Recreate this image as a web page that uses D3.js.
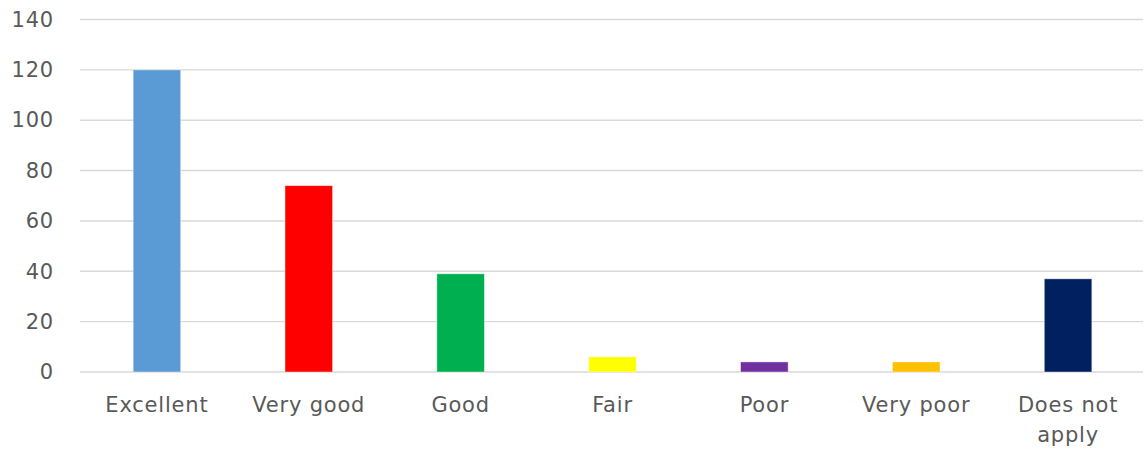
<!DOCTYPE html>
<html>
<head>
<meta charset="utf-8">
<script src="https://cdn.jsdelivr.net/npm/d3@7"></script>
<style>
  html, body { margin: 0; padding: 0; background: #ffffff; }
  svg { display: block; }
</style>
</head>
<body>
<svg id="chart" width="1146" height="451"></svg>
<script>
// Survey ratings: number of responses per category
const categories = ["Excellent", "Very good", "Good", "Fair", "Poor", "Very poor", "Does not apply"];
const counts = [120, 74, 39, 6, 4, 4, 37];
const barColors = ["#5b9bd5", "#ff0000", "#00b050", "#ffff00", "#7030a0", "#ffc000", "#002060"];
const yTicks = [0, 20, 40, 60, 80, 100, 120, 140];

const svg = d3.select("#chart");
const margin = { left: 81, right: 2, top: 19.5, bottom: 79 };
const width = 1146, height = 451;

const x = d3.scaleBand()
  .domain(categories)
  .range([margin.left, width - margin.right])
  .paddingInner(0.687)
  .paddingOuter(0.3435);

const y = d3.scaleLinear()
  .domain([0, 140])
  .range([height - margin.bottom, margin.top]);

const fontFamily = "'DejaVu Sans', 'Noto Sans', sans-serif";
const fontSize = 21;
const letterSpacing = 0.8;
const textColor = "#595959";

// Horizontal gridlines
svg.append("g")
  .selectAll("line")
  .data(yTicks)
  .join("line")
  .attr("x1", margin.left - 1)
  .attr("x2", width - 3)
  .attr("y1", d => y(d))
  .attr("y2", d => y(d))
  .attr("stroke", "#d9d9d9")
  .attr("stroke-width", 1.4);

// Y axis labels
const yAxis = d3.axisLeft(y).tickValues(yTicks).tickSize(0).tickPadding(0);
const gy = svg.append("g")
  .attr("transform", "translate(54,0)")
  .call(yAxis);
gy.select(".domain").remove();
gy.selectAll("text")
  .attr("font-family", fontFamily)
  .attr("font-size", fontSize)
  .attr("letter-spacing", letterSpacing)
  .attr("fill", textColor);

// Bars
svg.append("g")
  .selectAll("rect")
  .data(categories)
  .join("rect")
  .attr("x", d => x(d))
  .attr("width", x.bandwidth())
  .attr("y", (d, i) => y(counts[i]))
  .attr("height", (d, i) => y(0) - y(counts[i]))
  .attr("fill", (d, i) => barColors[i])
  .attr("stroke", "rgba(255,255,255,0.5)")
  .attr("stroke-width", 0.8);

// Category labels (wrapped where needed)
const labelLines = {
  "Does not apply": ["Does not", "apply"]
};
const labels = svg.append("g")
  .selectAll("text")
  .data(categories)
  .join("text")
  .attr("x", d => x(d) + x.bandwidth() / 2)
  .attr("y", 412)
  .attr("text-anchor", "middle")
  .attr("font-family", fontFamily)
  .attr("font-size", fontSize)
  .attr("letter-spacing", letterSpacing)
  .attr("fill", textColor);

labels.each(function(d) {
  const lines = labelLines[d] || [d];
  const t = d3.select(this);
  lines.forEach((ln, i) => {
    t.append("tspan")
      .attr("x", x(d) + x.bandwidth() / 2)
      .attr("dy", i === 0 ? 0 : 30)
      .text(ln);
  });
});
</script>
</body>
</html>
